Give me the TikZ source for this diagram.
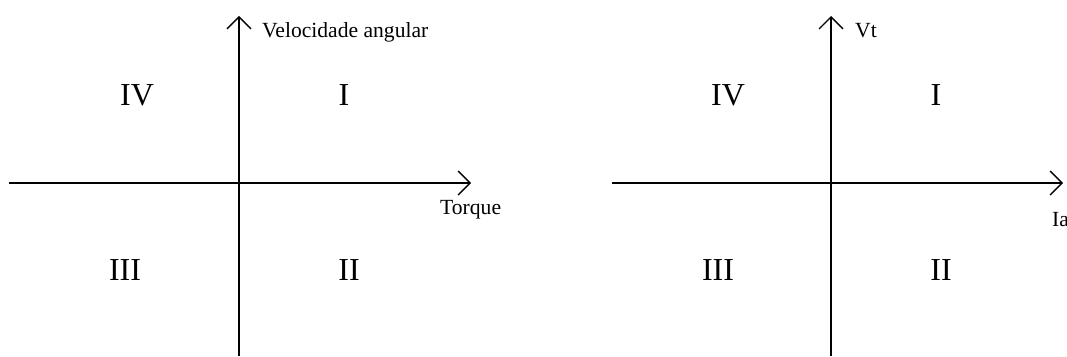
\documentclass[tikz,border=0pt]{standalone}
\usepackage{fontspec}
\setmainfont{Liberation Serif}
\usetikzlibrary{arrows.meta}
\tikzset{
  axis/.style={line width=1.4pt, -{Straight Barb[length=12pt,width=24pt,line width=1.4pt]}},
  lab/.style={inner sep=0pt, anchor=base west, font=\fontsize{21.6}{25}\selectfont},
  quad/.style={inner sep=0pt, anchor=base, font=\fontsize{32}{38}\selectfont}
}
\begin{document}
\begin{tikzpicture}[x=1pt,y=1pt]
\useasboundingbox (0,0) rectangle (1067,356);
% left diagram
\coordinate (lxs) at (9,173);
\coordinate (lxe) at (471,173);
\coordinate (lys) at (239,0);
\coordinate (lye) at (239,340);
\draw[axis] (lxs) -- (lxe);
\draw[axis] (lys) -- (lye);
\node[lab] (lv) at (262,318) {Velocidade angular};
\node[lab] (lt) at (440,141) {Torque};
\node[quad] (l4) at (137,250) {IV};
\node[quad] (l1) at (344,250) {I};
\node[quad] (l3) at (125,75) {III};
\node[quad] (l2) at (349,75) {II};
% right diagram
\coordinate (rxs) at (612,173);
\coordinate (rxe) at (1063,173);
\coordinate (rys) at (831,0);
\coordinate (rye) at (831,340);
\draw[axis] (rxs) -- (rxe);
\draw[axis] (rys) -- (rye);
\node[lab] (rv) at (855,318) {Vt};
\node[lab] (ri) at (1052,129) {Ia};
\node[quad] (r4) at (728,250) {IV};
\node[quad] (r1) at (936,250) {I};
\node[quad] (r3) at (718,75) {III};
\node[quad] (r2) at (941,75) {II};
\end{tikzpicture}
\end{document}
